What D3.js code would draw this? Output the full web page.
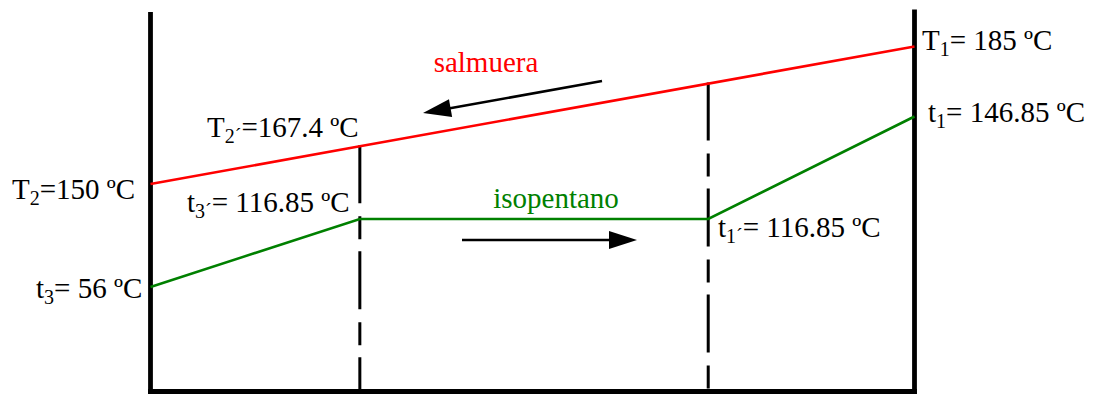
<!DOCTYPE html>
<html>
<head>
<meta charset="utf-8">
<script src="https://cdn.jsdelivr.net/npm/d3@7"></script>
<style>
  html, body { margin: 0; padding: 0; background: #fff; }
  svg { display: block; }
  text { font-family: "Liberation Serif", "Times New Roman", serif; font-size: 29px; }
</style>
</head>
<body>
<svg id="chart" width="1096" height="394"></svg>
<script>
// Heat exchanged (% of total duty) at the section boundaries:
// preheater | evaporator | superheater
const heatBounds = [0, 27.4, 73.0, 100];

// Brine (salmuera), flowing from the hot end to the cold end
const brineQ = [0, 27.4, 100];
const brineT = [150, 167.4, 185];

// Isopentane (isopentano): preheat, isothermal boiling, superheat
const isoQ = [0, 27.4, 73.0, 100];
const isoT = [56, 116.85, 116.85, 146.85];

const svg = d3.select("#chart");

// Heat axis
const x = d3.scaleLinear().domain([0, 100]).range([150.5, 914.5]);

// Schematic temperature axes (not to scale), one per stream
const yBrine = d3.scaleLinear().domain(brineT).range([184, 146.3, 46.5]);
const yIso = d3.scaleLinear().domain([56, 116.85, 146.85]).range([287, 219, 116.5]);

const brineAt = d3.scaleLinear().domain(brineQ).range(brineT);

// Dashed section boundaries, from the brine line down to the base
const inner = heatBounds.slice(1, -1);
svg.selectAll("line.section")
  .data(inner)
  .join("line")
  .attr("class", "section")
  .attr("x1", d => x(d)).attr("x2", d => x(d))
  .attr("y1", d => yBrine(brineAt(d)) - 1)
  .attr("y2", 394)
  .attr("stroke", "#000")
  .attr("stroke-width", 3)
  .attr("stroke-dasharray", "58,13,23,12");

// Frame: two side walls and the base
const frameW = 4.8;
svg.append("line")
  .attr("x1", x(0)).attr("x2", x(0))
  .attr("y1", 12).attr("y2", 394)
  .attr("stroke", "#000").attr("stroke-width", frameW);
svg.append("line")
  .attr("x1", x(100)).attr("x2", x(100))
  .attr("y1", 9.5).attr("y2", 394)
  .attr("stroke", "#000").attr("stroke-width", frameW);
svg.append("line")
  .attr("x1", x(0) - frameW / 2).attr("x2", x(100) + frameW / 2)
  .attr("y1", 391.5).attr("y2", 391.5)
  .attr("stroke", "#000").attr("stroke-width", frameW);

// Stream lines
const brineLine = d3.line().x((d, i) => x(brineQ[i])).y(d => yBrine(d));
svg.append("path")
  .attr("d", brineLine(brineT))
  .attr("fill", "none").attr("stroke", "#ff0000").attr("stroke-width", 2.6);

const isoLine = d3.line().x((d, i) => x(isoQ[i])).y(d => yIso(d));
svg.append("path")
  .attr("d", isoLine(isoT))
  .attr("fill", "none").attr("stroke", "#008000").attr("stroke-width", 2.6);

// Flow direction arrows
function arrow(x1, y1, x2, y2) {
  const len = Math.hypot(x2 - x1, y2 - y1);
  const ux = (x2 - x1) / len, uy = (y2 - y1) / len;
  const headL = 28, headW = 9;
  const bx = x2 - ux * headL, by = y2 - uy * headL;
  svg.append("line")
    .attr("x1", x1).attr("y1", y1).attr("x2", bx + ux * 2).attr("y2", by + uy * 2)
    .attr("stroke", "#000").attr("stroke-width", 2.6);
  svg.append("polygon")
    .attr("points", [
      [x2, y2],
      [bx - uy * headW, by + ux * headW],
      [bx + uy * headW, by - ux * headW]
    ].map(p => p.join(",")).join(" "))
    .attr("fill", "#000");
}
arrow(602, 81, 423, 113);
arrow(462, 240, 637, 240);

// Stream names
svg.append("text").attr("x", 486).attr("y", 72).attr("text-anchor", "middle")
  .attr("fill", "#ff0000").text("salmuera");
svg.append("text").attr("x", 556).attr("y", 208).attr("text-anchor", "middle")
  .attr("fill", "#008000").text("isopentano");

// Temperature labels: [main letter, subscript, rest, x, y]
const labels = [
  ["T", "2", "=150 ºC", 12, 199],
  ["t", "3", "= 56 ºC", 36, 298],
  ["T", "2´", "=167.4 ºC", 207, 137],
  ["t", "3´", "= 116.85 ºC", 187, 212],
  ["t", "1´", "= 116.85 ºC", 718, 237],
  ["T", "1", "= 185 ºC", 922, 50],
  ["t", "1", "= 146.85 ºC", 928, 122]
];
const lab = svg.selectAll("text.lab")
  .data(labels)
  .join("text")
  .attr("class", "lab")
  .attr("x", d => d[3]).attr("y", d => d[4])
  .attr("fill", "#000");
lab.append("tspan").text(d => d[0]);
lab.append("tspan").attr("dy", 6).style("font-size", "20px").text(d => d[1]);
lab.append("tspan").attr("dy", -6).text(d => d[2]);
</script>
</body>
</html>
